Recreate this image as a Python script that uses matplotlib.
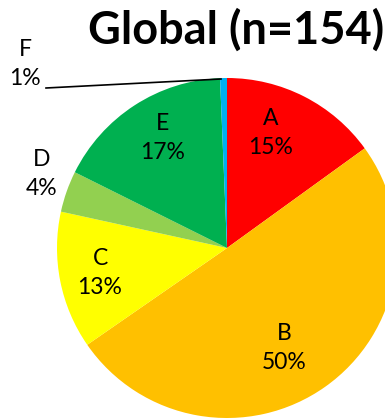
import matplotlib
matplotlib.use("Agg")
import matplotlib.pyplot as plt

labels = ["A", "B", "C", "D", "E", "F"]
counts = [23, 77, 20, 6, 26, 1]
colors = ["#FF0000", "#FFC000", "#FFFF00", "#92D050", "#00B050", "#00B0F0"]
title = "Global (n=154)"

# label anchor positions in pixel coords (x, y from top)
label_pos = [(271, 133), (284, 348), (100, 273), (42, 174), (163, 138), (25, 64)]

W, H = 385, 418
fig = plt.figure(figsize=(W / 100, H / 100), dpi=100)
ax = fig.add_axes([0, 0, 1, 1])

cx, cy, r = 227, H - 248, 170
ax.pie(counts, colors=colors, startangle=90, counterclock=False,
       center=(cx, cy), radius=r, frame=True,
       wedgeprops=dict(edgecolor="none", linewidth=0))
ax.set_xlim(0, W)
ax.set_ylim(0, H)
ax.set_aspect("equal")
ax.axis("off")

total = sum(counts)
for lab, c, (x, y) in zip(labels, counts, label_pos):
    ax.text(x, H - y, f"{lab}\n{round(100 * c / total)}%", ha="center", va="center",
            fontsize=16.5, family="Lato", linespacing=1.5)

# leader line for F
ax.plot([46, 221], [H - 88, H - 79], color="black", lw=1.2)

fig.text(236 / W, 1 - 30 / H, title, ha="center", va="center",
         fontsize=32.5, fontweight="bold", family="Lato")

fig.savefig("out.png", dpi=100)
